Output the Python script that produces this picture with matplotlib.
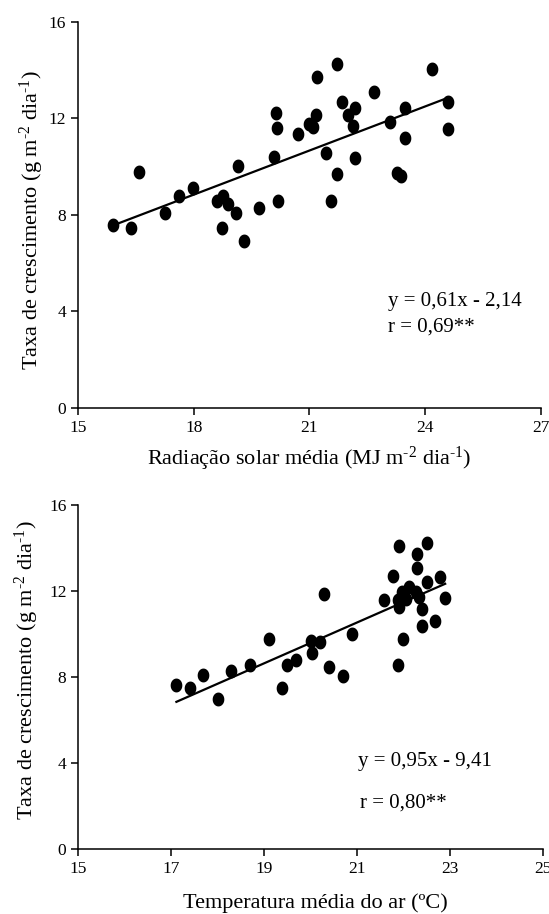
import numpy as np
import matplotlib
matplotlib.use("Agg")
import matplotlib.pyplot as plt
from matplotlib.path import Path

plt.rcParams['font.family'] = ['Liberation Serif', 'DejaVu Serif']
plt.rcParams['mathtext.fontset'] = 'custom'
plt.rcParams['mathtext.rm'] = 'Liberation Serif'
plt.rcParams['mathtext.it'] = 'Liberation Serif:italic'
plt.rcParams['mathtext.default'] = 'rm'

# ---- Data: panel 1 (solar radiation) ----
rad_x = [15.91, 16.37, 16.59, 17.26, 17.62, 17.97, 18.61, 18.76, 18.89, 18.74,
         19.09, 19.15, 19.29, 19.70, 20.19, 20.09, 20.12, 20.16, 20.69, 20.98,
         21.10, 21.17, 21.20, 21.42, 21.57, 21.70, 21.70, 21.85, 22.00, 22.18,
         22.13, 22.18, 22.68, 23.08, 23.28, 23.38, 23.48, 23.48, 24.18, 24.59,
         24.59]
rad_y = [7.60, 7.46, 9.79, 8.07, 8.80, 9.13, 8.58, 8.78, 8.45, 7.47,
         8.07, 10.03, 6.93, 8.27, 8.58, 10.42, 12.24, 11.62, 11.34, 11.78,
         11.66, 12.16, 13.71, 10.58, 8.59, 9.70, 14.26, 12.68, 12.15, 12.45,
         11.67, 10.37, 13.09, 11.84, 9.73, 9.63, 12.42, 11.18, 14.07, 12.70,
         11.58]
rad_slope, rad_icept = 0.61, -2.14
rad_eq = ["y = 0,61x - 2,14", "r = 0,69**"]

# ---- Data: panel 2 (air temperature) ----
temp_x = [17.11, 17.40, 17.69, 18.00, 18.28, 18.69, 19.11, 19.38, 19.48, 19.68,
          20.00, 20.19, 20.03, 20.40, 20.70, 20.89, 20.28, 21.88, 21.98, 22.39,
          22.68, 22.40, 21.58, 22.89, 21.87, 21.89, 22.12, 21.97, 22.26, 22.33,
          21.77, 22.78, 22.49, 22.29, 22.28, 21.89, 22.50, 22.05]
temp_y = [7.63, 7.47, 8.09, 6.96, 8.29, 8.56, 9.75, 7.47, 8.56, 8.79,
          9.69, 9.65, 9.10, 8.48, 8.05, 10.00, 11.86, 8.56, 9.75, 10.37,
          10.62, 11.15, 11.58, 11.66, 11.58, 11.27, 12.20, 11.97, 11.97, 11.74,
          12.70, 12.67, 12.40, 13.08, 13.72, 14.09, 14.22, 11.65]
temp_slope, temp_icept = 0.95, -9.41
temp_eq = ["y = 0,95x - 9,41", "r = 0,80**"]

ylabel = r'Taxa de crescimento (g m$^{\text{-}2}$ dia$^{\text{-}1}$)'
xlabel1 = r'Radiação solar média (MJ m$^{\text{-}2}$ dia$^{\text{-}1}$)'
xlabel2 = 'Temperatura média do ar (ºC)'

# elliptical marker (slightly taller than wide)
t = np.linspace(0, 2 * np.pi, 60)
ell = Path(np.column_stack([0.84 * np.cos(t), np.sin(t)]), closed=True)

fig = plt.figure(figsize=(5.49, 9.14), dpi=100)
ax1 = fig.add_axes([0.1421, 0.5539, 0.8433, 0.4220])
ax2 = fig.add_axes([0.1426, 0.0711, 0.8470, 0.3764])


def style(ax, xlim, xticks):
    ax.set_xlim(*xlim)
    ax.set_ylim(0, 16)
    ax.set_xticks(xticks)
    ax.set_yticks([0, 4, 8, 12, 16])
    for s in ['top', 'right']:
        ax.spines[s].set_visible(False)
    for s in ['left', 'bottom']:
        ax.spines[s].set_linewidth(1.1)
    ax.tick_params(direction='out', length=5, width=1.1, labelsize=12.5,
                   pad=3.5)


# panel 1
ax1.plot(rad_x, rad_y, linestyle='none', marker=ell, markersize=10,
         color='black', markeredgewidth=0, clip_on=False)
xl = np.array([min(rad_x), max(rad_x)])
ax1.plot(xl, rad_slope * xl + rad_icept, color='black', lw=1.6)
style(ax1, (15, 27), [15, 18, 21, 24, 27])
ax1.set_ylabel(ylabel, fontsize=16, va='center')
ax1.yaxis.set_label_coords(-0.0994, 0.485)
ax1.set_xlabel(xlabel1, fontsize=16, va='center')
ax1.xaxis.set_label_coords(0.499, -0.133)
ax1.text(23.03, 4.4, rad_eq[0], fontsize=15, va='center', ha='left')
ax1.text(23.03, 3.36, rad_eq[1], fontsize=15, va='center', ha='left')

# panel 2
ax2.plot(temp_x, temp_y, linestyle='none', marker=ell, markersize=10,
         color='black', markeredgewidth=0, clip_on=False)
xl2 = np.array([min(temp_x), max(temp_x)])
ax2.plot(xl2, temp_slope * xl2 + temp_icept, color='black', lw=1.6)
style(ax2, (15, 25), [15, 17, 19, 21, 23, 25])
ax2.set_ylabel(ylabel, fontsize=16, va='center')
ax2.yaxis.set_label_coords(-0.110, 0.52)
ax2.set_xlabel(xlabel2, fontsize=16, va='center')
ax2.xaxis.set_label_coords(0.509, -0.157)
ax2.text(21.02, 4.06, temp_eq[0], fontsize=15, va='center', ha='left')
ax2.text(21.06, 2.13, temp_eq[1], fontsize=15, va='center', ha='left')

fig.savefig('out.png', dpi=100)
